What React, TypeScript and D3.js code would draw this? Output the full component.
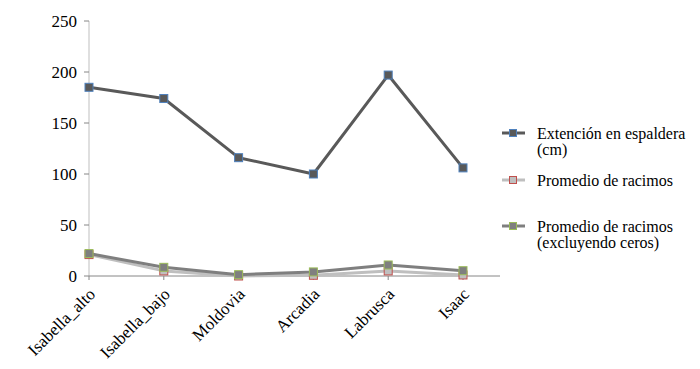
import React from 'react';
import * as d3 from 'd3';

const categories = ['Isabella_alto', 'Isabella_bajo', 'Moldovia', 'Arcadia', 'Labrusca', 'Isaac'];
const extension = [185, 174, 116, 100, 197, 106];
const promedio = [21, 5, 0, 0.7, 5, 1];
const promedioSinCeros = [22, 8.5, 1.3, 4, 10.8, 5.2];
const yTicks = [0, 50, 100, 150, 200, 250];

const series = [
  {name: ['Extención en espaldera', '(cm)'], values: extension, line: '#595959', fill: '#595959', stroke: '#4f81bd'},
  {name: ['Promedio de racimos'], values: promedio, line: '#bfbfbf', fill: '#bfbfbf', stroke: '#c0504d'},
  {name: ['Promedio de racimos', '(excluyendo ceros)'], values: promedioSinCeros, line: '#7f7f7f', fill: '#7f7f7f', stroke: '#9bbb59'},
];

const FONT = "'Times New Roman', Times, 'Liberation Serif', Tinos, 'Nimbus Roman', 'Noto Serif', 'DejaVu Serif', FreeSerif, serif";

const App = () => {
  const width = 700, height = 369;
  const x = d3.scalePoint<string>().domain(categories).range([89, 463]);
  const y = d3.scaleLinear().domain([0, 250]).range([276, 21]);
  const line = d3.line<number>().x((_, i) => x(categories[i])!).y(d => y(d));
  const legendRows = [133, 180, 226];

  return (
    <svg
      width={width}
      height={height}
      style={{position: 'absolute', left: 0, top: 0, fontFamily: FONT}}
    >
      {/* y axis */}
      <line x1={x.range()[0]} x2={x.range()[0]} y1={y(250)} y2={y(0)} stroke="#bfbfbf" strokeWidth={1} />
      {yTicks.map(t => (
        <g key={t}>
          <line x1={84} x2={89} y1={y(t)} y2={y(t)} stroke="#868686" />
          <text x={77} y={y(t)} dy="0.35em" textAnchor="end" fontSize={17} fill="#000">{t}</text>
        </g>
      ))}
      {/* x axis */}
      <line x1={89} x2={500} y1={y(0)} y2={y(0)} stroke="#868686" />
      {categories.map(c => (
        <g key={c}>
          <line x1={x(c)} x2={x(c)} y1={y(0)} y2={y(0) + 4} stroke="#868686" />
          <text
            transform={`translate(${x(c)! + 3},${y(0) + 15}) rotate(-45)`}
            textAnchor="end"
            dy="0.35em"
            fontSize={17}
            fill="#000"
          >
            {c}
          </text>
        </g>
      ))}
      {/* series */}
      {series.map((s, si) => (
        <g key={si}>
          <path d={line(s.values)!} fill="none" stroke={s.line} strokeWidth={3} strokeLinejoin="round" />
          {s.values.map((v, i) => (
            <rect
              key={i}
              x={x(categories[i])! - 4}
              y={y(v) - 4}
              width={8}
              height={8}
              fill={s.fill}
              stroke={s.stroke}
              strokeWidth={1}
            />
          ))}
        </g>
      ))}
      {/* legend */}
      {series.map((s, si) => (
        <g key={si} transform={`translate(0,${legendRows[si]})`}>
          <line x1={502} x2={525} y1={0} y2={0} stroke={s.line} strokeWidth={3} />
          <rect x={509.5} y={-3.5} width={7} height={7} fill={s.fill} stroke={s.stroke} />
          {s.name.map((n, k) => (
            <text key={k} x={537} y={k * 16} dy="0.35em" fontSize={16} fill="#000">{n}</text>
          ))}
        </g>
      ))}
    </svg>
  );
};

export default App;
